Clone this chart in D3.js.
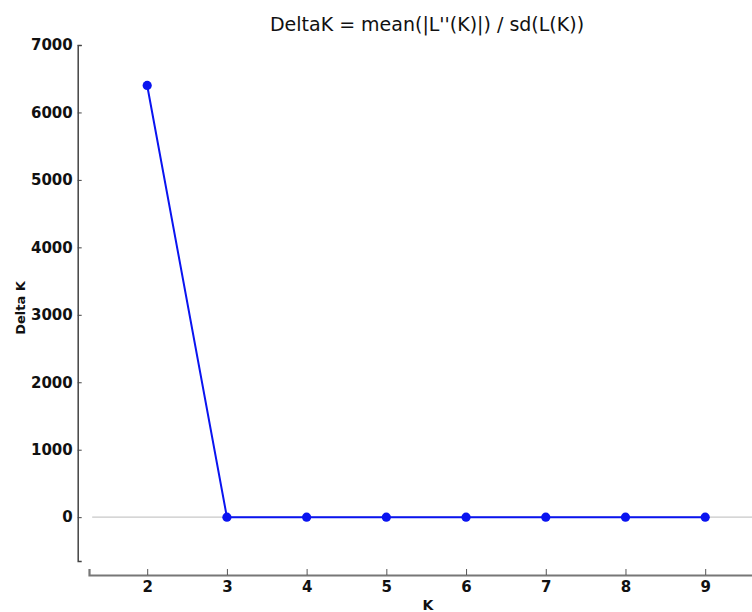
<!DOCTYPE html>
<html>
<head>
<meta charset="utf-8">
<script src="https://cdn.jsdelivr.net/npm/d3@7"></script>
<style>
  html, body { margin: 0; padding: 0; background: #fff; }
  svg { display: block; font-family: "DejaVu Sans", sans-serif; }
</style>
</head>
<body>
<svg id="chart" width="752" height="612"></svg>
<script>
// Evanno DeltaK per number of clusters K
const kValues = [2, 3, 4, 5, 6, 7, 8, 9];
const deltaK = [6400, 0, 0, 0, 0, 0, 0, 0];
const yTicks = [0, 1000, 2000, 3000, 4000, 5000, 6000, 7000];
const xTicks = [2, 3, 4, 5, 6, 7, 8, 9];
const titleText = "DeltaK = mean(|L''(K)|) / sd(L(K))";
const xLabel = "K";
const yLabel = "Delta K";

const svg = d3.select("#chart");

const x = d3.scaleLinear().domain([1.27, 9.7]).range([89, 761]);
const y = d3.scaleLinear().domain([-650, 7000]).range([561, 45]);

// zero reference line
svg.append("line")
  .attr("x1", x(1.31)).attr("x2", 752)
  .attr("y1", y(0)).attr("y2", y(0))
  .attr("stroke", "#c8c8c8").attr("stroke-width", 1.2);

// y axis (ticks pointing inward)
const yAxis = svg.append("g")
  .attr("transform", `translate(${x(1.27) - 11.3},0)`)
  .call(d3.axisLeft(y).tickValues(yTicks).tickSize(-4).tickPadding(5).tickFormat(d3.format("d")));
yAxis.select(".domain").attr("stroke", "#444").attr("stroke-width", 1.5);
yAxis.selectAll(".tick line").attr("stroke", "#444").attr("stroke-width", 1);
yAxis.selectAll(".tick text")
  .attr("font-size", 15).attr("font-weight", "bold").attr("fill", "#111")
  .attr("font-family", "DejaVu Sans, sans-serif");

// x axis (ticks pointing inward)
const xAxis = svg.append("g")
  .attr("transform", `translate(0,575)`)
  .call(d3.axisBottom(x).tickValues(xTicks).tickSize(-6).tickPadding(6).tickFormat(d3.format("d")));
xAxis.select(".domain").attr("stroke", "#777").attr("stroke-width", 2.2);
xAxis.selectAll(".tick line").attr("stroke", "#555").attr("stroke-width", 1);
xAxis.selectAll(".tick text")
  .attr("font-size", 15).attr("font-weight", "bold").attr("fill", "#111")
  .attr("font-family", "DejaVu Sans, sans-serif");

// series line and markers
const line = d3.line().x((d, i) => x(kValues[i])).y(d => y(d));
svg.append("path")
  .datum(deltaK)
  .attr("d", line)
  .attr("fill", "none")
  .attr("stroke", "#0a14f0")
  .attr("stroke-width", 2);

svg.append("g").selectAll("circle")
  .data(deltaK)
  .join("circle")
  .attr("cx", (d, i) => x(kValues[i]))
  .attr("cy", d => y(d))
  .attr("r", 4.6)
  .attr("fill", "#0a14f0");

// title and axis labels
svg.append("text")
  .attr("x", 427).attr("y", 30.5)
  .attr("text-anchor", "middle")
  .attr("font-size", 19)
  .attr("fill", "#111")
  .text(titleText);

svg.append("text")
  .attr("x", 428).attr("y", 610)
  .attr("text-anchor", "middle")
  .attr("font-size", 14).attr("font-weight", "bold")
  .attr("fill", "#111")
  .text(xLabel);

svg.append("text")
  .attr("transform", "translate(25,308) rotate(-90)")
  .attr("text-anchor", "middle")
  .attr("font-size", 13).attr("font-weight", "bold")
  .attr("fill", "#111")
  .text(yLabel);
</script>
</body>
</html>
